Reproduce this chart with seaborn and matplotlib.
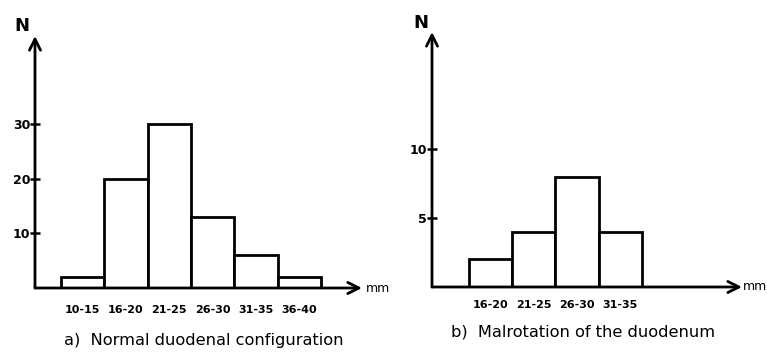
import seaborn as sns
import matplotlib.pyplot as plt

# data
normal_bins = ['10-15', '16-20', '21-25', '26-30', '31-35', '36-40']
normal_counts = [2, 20, 30, 13, 6, 2]
normal_ticks = [10, 20, 30]

malrot_bins = ['16-20', '21-25', '26-30', '31-35']
malrot_counts = [2, 4, 8, 4]
malrot_ticks = [5, 10]

sns.set_theme(style="white")
plt.rcParams['font.family'] = ['DejaVu Sans']
plt.rcParams['text.color'] = 'black'
plt.rcParams['xtick.color'] = 'black'
plt.rcParams['ytick.color'] = 'black'

W, H = 767, 352
fig = plt.figure(figsize=(W / 100, H / 100), dpi=100)


def px_axes(left, top, right, bottom):
    return fig.add_axes([left / W, 1 - bottom / H, (right - left) / W, (bottom - top) / H])


def draw_panel(ax, bins, counts, ticks, xlim, ylim, xpad):
    sns.barplot(x=bins, y=counts, color='white', saturation=1, edgecolor='black',
                linewidth=2, width=1, ax=ax)
    ax.set_xlim(*xlim)
    ax.set_ylim(*ylim)
    for s in ax.spines.values():
        s.set_visible(False)
    # axes drawn as arrows
    arrow = dict(arrowstyle='->', lw=2, color='black', mutation_scale=20, shrinkA=0, shrinkB=0)
    ax.annotate('', xy=(xlim[1], 0), xytext=(xlim[0], 0), annotation_clip=False,
                arrowprops=arrow)
    ax.annotate('', xy=(xlim[0], ylim[1]), xytext=(xlim[0], 0), annotation_clip=False,
                arrowprops=arrow)
    ax.set_yticks(ticks)
    ax.set_yticklabels([str(t) for t in ticks], fontsize=9, fontweight='bold')
    ax.tick_params(axis='y', left=True, direction='inout', length=7, width=1.8, pad=0)
    ax.tick_params(axis='x', bottom=False, pad=xpad)
    for lab in ax.get_xticklabels():
        lab.set_fontsize(8)
        lab.set_fontweight('bold')
    ax.set_xlabel('')
    ax.set_ylabel('')
    ax.patch.set_alpha(0)


ax1 = px_axes(35, 36, 362, 288)
draw_panel(ax1, normal_bins, normal_counts, normal_ticks, (-1.1, 6.45), (0, 46.2), 6)

ax2 = px_axes(432, 32, 742, 287)
draw_panel(ax2, malrot_bins, malrot_counts, malrot_ticks, (-1.36, 5.82), (0, 18.5), 3)

fig.text(22 / W, 1 - 26 / H, 'N', ha='center', va='center', fontsize=13, fontweight='bold')
fig.text(421 / W, 1 - 23 / H, 'N', ha='center', va='center', fontsize=13, fontweight='bold')
fig.text(366 / W, 1 - 289 / H, 'mm', ha='left', va='center', fontsize=9)
fig.text(743 / W, 1 - 286 / H, 'mm', ha='left', va='center', fontsize=9)

fig.text(204 / W, 1 - 340 / H, 'a)  Normal duodenal configuration', ha='center', va='center',
         fontsize=11.7)
fig.text(583 / W, 1 - 332 / H, 'b)  Malrotation of the duodenum', ha='center', va='center',
         fontsize=11.7)

fig.savefig('out.png', dpi=100, facecolor='white')
